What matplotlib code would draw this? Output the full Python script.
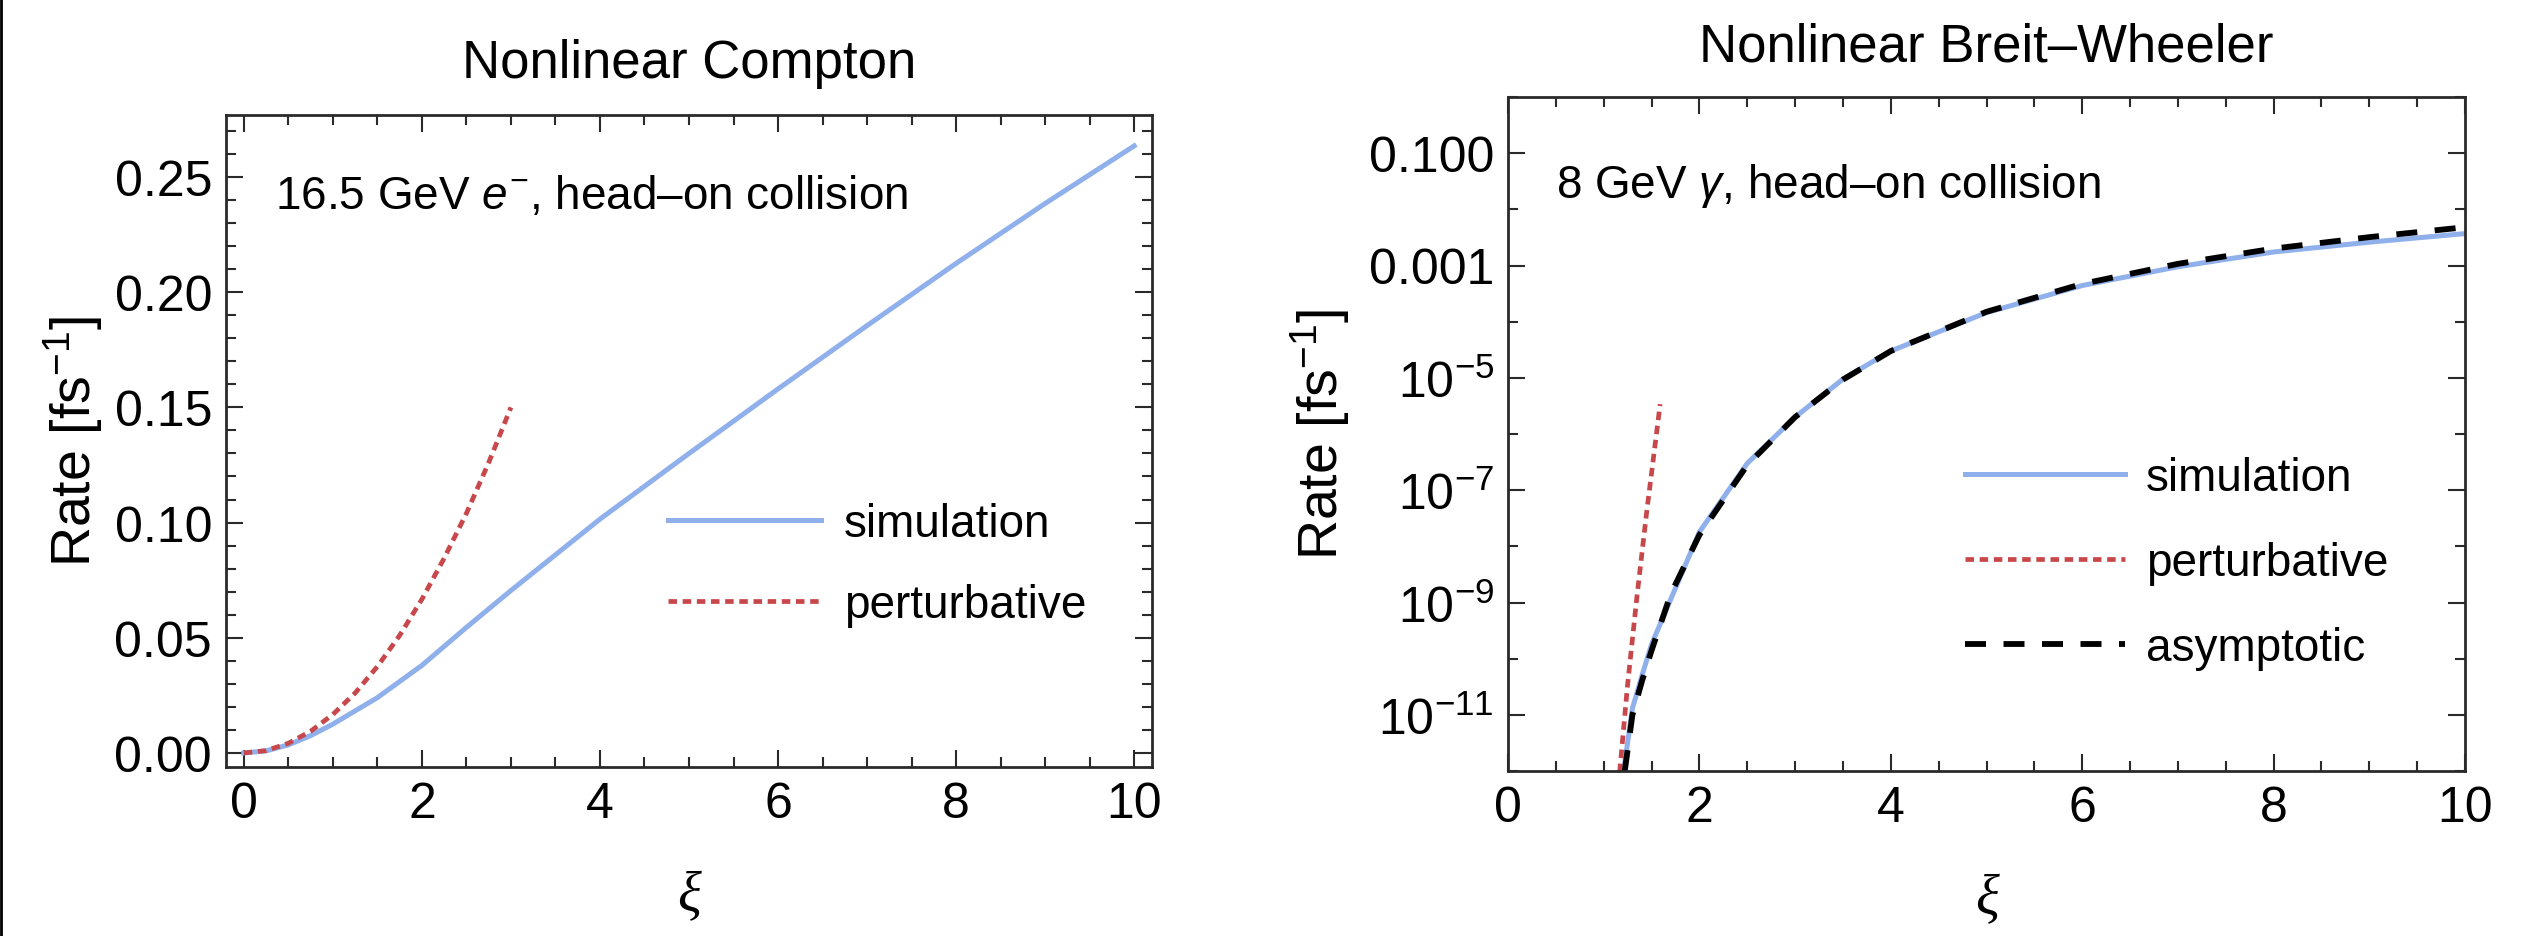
import matplotlib
matplotlib.use('Agg')
import matplotlib.pyplot as plt
from matplotlib.lines import Line2D
from matplotlib.ticker import FixedLocator, MultipleLocator, FixedFormatter, NullFormatter, FormatStrFormatter

SANS = 'Liberation Sans'
plt.rcParams['font.family'] = [SANS, 'DejaVu Sans']
plt.rcParams['mathtext.fontset'] = 'custom'
plt.rcParams['mathtext.rm'] = SANS
plt.rcParams['mathtext.it'] = SANS + ':italic'

## Nonlinear Compton, 16.5 GeV e-
xi_nc_sim = [0, 0.25, 0.5, 0.75, 1.0, 1.5, 2.0, 2.5, 3.0, 3.5, 4.0, 5.0, 6.0, 7.0, 8.0, 9.0, 10.0]
rate_nc_sim = [0, 0.0009, 0.0035, 0.0075, 0.0125, 0.024, 0.038, 0.0545, 0.0705, 0.086, 0.1015,
               0.130, 0.158, 0.1855, 0.2125, 0.2385, 0.2635]
xi_nc_pert = [0, 0.25, 0.5, 0.75, 1.0, 1.25, 1.5, 1.75, 2.0, 2.25, 2.5, 2.75, 3.0]
rate_nc_pert = [0, 0.001, 0.0042, 0.0094, 0.0167, 0.026, 0.0375, 0.051, 0.0667, 0.0845, 0.104, 0.126, 0.150]

## Nonlinear Breit-Wheeler, 8 GeV gamma
xi_bw_sim = [1.20, 1.30, 1.40, 1.50, 2.0, 2.5, 3.0, 3.5, 4.0, 5.0, 6.0, 7.0, 8.0, 9.0, 10.0]
rate_bw_sim = [7.9e-13, 1.3e-11, 5.0e-11, 1.8e-10, 1.8e-8, 3.0e-7, 2.0e-6, 9.5e-6, 3.0e-5,
               1.45e-4, 4.4e-4, 9.5e-4, 1.74e-3, 2.6e-3, 3.7e-3]
xi_bw_pert = [1.14, 1.25, 1.35, 1.45, 1.59]
rate_bw_pert = [3e-13, 3.5e-11, 1.4e-9, 4.2e-8, 3.4e-6]
xi_bw_asym = [1.22, 1.30, 1.40, 1.50, 1.70, 2.0, 2.5, 3.0, 3.5, 4.0, 5.0, 6.0, 7.0, 8.0, 9.0, 10.0]
rate_bw_asym = [1.0e-12, 1.0e-11, 4.0e-11, 1.4e-10, 1.4e-9, 1.6e-8, 2.8e-7, 2.0e-6, 9.3e-6, 3.0e-5,
                1.5e-4, 4.7e-4, 1.07e-3, 2.0e-3, 3.2e-3, 4.8e-3]

log_ticks = [1e-11, 1e-9, 1e-7, 1e-5, 1e-3, 1e-1]
log_ticklabels = [r'$\mathregular{10^{-11}}$', r'$\mathregular{10^{-9}}$', r'$\mathregular{10^{-7}}$',
                  r'$\mathregular{10^{-5}}$', '0.001', '0.100']
log_minor = [1e-12, 1e-10, 1e-8, 1e-6, 1e-4, 1e-2, 1.0]

BLUE = '#90b0ec'
RED = '#c8474a'
FRAME = '#2a2a2a'
TICK_FS = 36
LEG_FS = 33

W, H = 2523, 937
fig = plt.figure(figsize=(W/100, H/100), dpi=100)
ax1 = fig.add_axes([226/W, 1-768/H, 926/W, 652/H])
ax2 = fig.add_axes([1508/W, 1-772/H, 957/W, 674/H])

def style(ax):
    for sp in ax.spines.values():
        sp.set_linewidth(2)
        sp.set_color(FRAME)
    ax.tick_params(which='both', direction='in', top=True, right=True, color=FRAME, width=1.5,
                   labelsize=TICK_FS, pad=10)
    ax.tick_params(which='major', length=12)
    ax.tick_params(which='minor', length=7)
    ax.xaxis.set_major_locator(MultipleLocator(2))
    ax.xaxis.set_minor_locator(MultipleLocator(0.5))
    ax.set_xlabel('ξ', fontsize=40, family='Liberation Serif', style='italic')
    ax.set_ylabel(r'Rate [fs$^{\mathregular{-1}}$]', fontsize=40)
    ax.xaxis.label.set_va('center')
    ax.yaxis.label.set_va('center')

# left: nonlinear Compton
style(ax1)
ax1.plot(xi_nc_sim, rate_nc_sim, color=BLUE, lw=3.6, label='simulation')
ax1.plot(xi_nc_pert, rate_nc_pert, color=RED, lw=3.4, ls=(0, (1.8, 1.2)), label='perturbative')
ax1.set_xlim(-0.2, 10.2)
ax1.set_ylim(-0.0061, 0.2769)
ax1.yaxis.set_major_locator(MultipleLocator(0.05))
ax1.yaxis.set_minor_locator(MultipleLocator(0.01))
ax1.yaxis.set_major_formatter(FormatStrFormatter('%.2f'))
ax1.xaxis.set_label_coords(0.5, -0.198)
ax1.yaxis.set_label_coords(-0.165, 0.5)
ax1.text(0.053, 0.876, r'16.5 GeV $e^{-}$, head–on collision', transform=ax1.transAxes,
         fontsize=LEG_FS, va='center', ha='left')
ax1.legend(loc='upper left', bbox_to_anchor=(0.477, 0.4057), frameon=False,
           prop={'size': LEG_FS}, handlelength=3.34, handletextpad=0.5,
           labelspacing=0.79, borderpad=0, borderaxespad=0)

# right: nonlinear Breit-Wheeler
style(ax2)
ax2.set_yscale('log')
ax2.plot(xi_bw_sim, rate_bw_sim, color=BLUE, lw=3.6, label='simulation')
ax2.plot(xi_bw_pert, rate_bw_pert, color=RED, lw=3.4, ls=(0, (1.8, 1.2)), label='perturbative')
ax2.plot(xi_bw_asym, rate_bw_asym, color='black', lw=4.2, ls=(0, (3.6, 3.0)), label='asymptotic')
ax2.set_xlim(0, 10)
ax2.set_ylim(1e-12, 1.0)
ax2.yaxis.set_major_locator(FixedLocator(log_ticks))
ax2.yaxis.set_major_formatter(FixedFormatter(log_ticklabels))
ax2.yaxis.set_minor_locator(FixedLocator(log_minor))
ax2.yaxis.set_minor_formatter(NullFormatter())
ax2.xaxis.set_label_coords(0.5, -0.19)
ax2.yaxis.set_label_coords(-0.196, 0.5)
ax2.text(0.050, 0.869, r'8 GeV $\gamma$, head–on collision', transform=ax2.transAxes,
         fontsize=LEG_FS, va='center', ha='left')
ax2.legend(loc='upper left', bbox_to_anchor=(0.4775, 0.468), frameon=False,
           prop={'size': LEG_FS}, handlelength=3.5, handletextpad=0.44,
           labelspacing=0.9, borderpad=0, borderaxespad=0)

fig.text(689/W, 1-64/H, 'Nonlinear Compton', ha='center', va='center', fontsize=38)
fig.text(1986/W, 1-48/H, 'Nonlinear Breit–Wheeler', ha='center', va='center', fontsize=38)

# thin border line on the left edge of the image
fig.add_artist(Line2D([1/W, 1/W], [0, 1], transform=fig.transFigure, color='black', lw=2))

fig.savefig('out.png', dpi=100)
